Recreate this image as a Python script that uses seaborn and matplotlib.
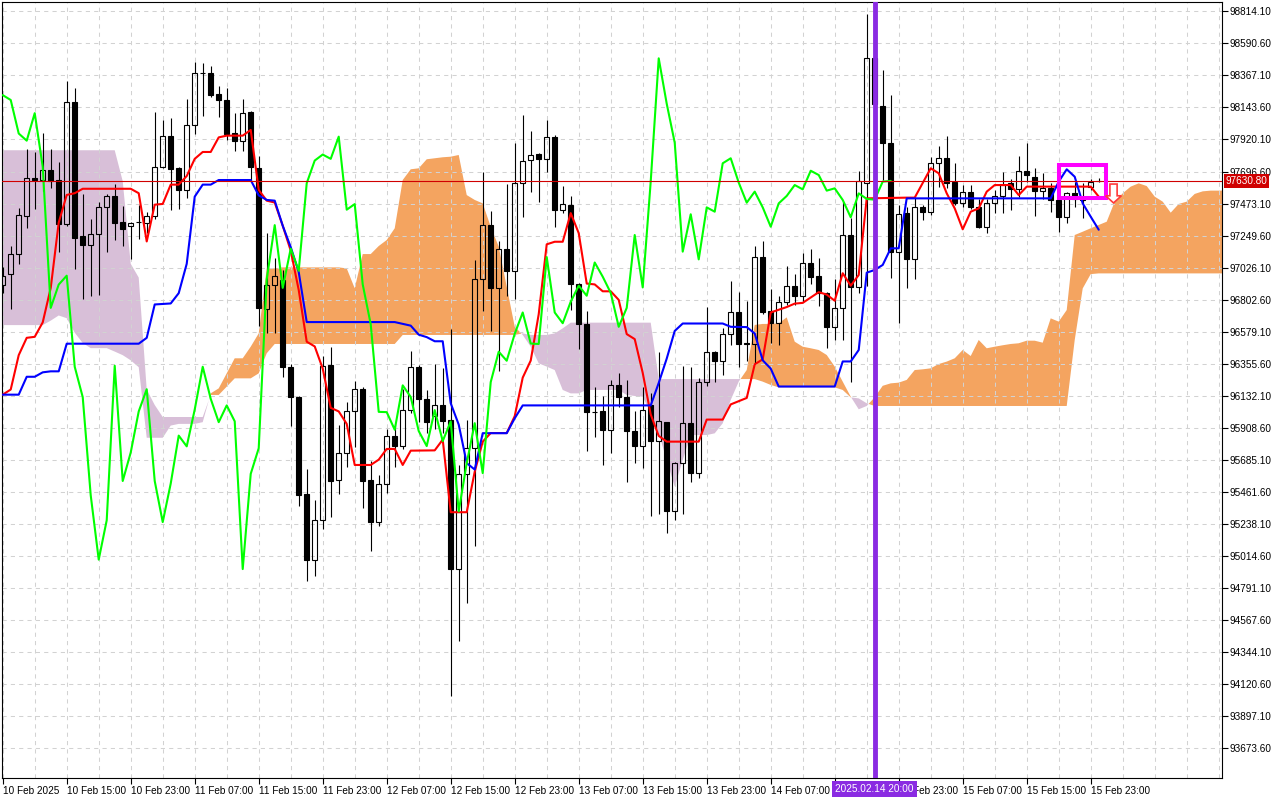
import numpy as np
import pandas as pd
import seaborn as sns
import matplotlib.pyplot as plt
from matplotlib.patches import Rectangle, Polygon

# BTCUSD H1, bars 10 Feb 07:00 .. 16 Feb 00:00 (bar index 0..137)
opens = [96907, 96980, 97119, 97388, 97650, 97634, 97706, 97634, 97328, 98182,
         97244, 97184, 97263, 97451, 97523, 97345, 97316, 97347, 97340, 97384,
         97730, 97946, 97720, 97564, 98019, 98386, 98384, 98241, 98199, 97967,
         97912, 98111, 97722, 96739, 96907, 96939, 96333, 96121, 95443, 94986,
         95261, 96345, 95542, 95734, 96021, 96176, 95542, 95248, 95517, 95852,
         95777, 96034, 96333, 96109, 95988, 96063, 95958, 94920, 95585, 95764,
         96943, 97322, 96884, 97158, 97003, 97615, 97779, 97818, 97785, 97940,
         97430, 97466, 96908, 96630, 96020, 96024, 95893, 96203, 96122, 95884,
         95779, 96064, 95814, 95946, 95323, 95660, 95939, 95590, 96226, 96438,
         96375, 96563, 96712, 96497, 96492, 97099, 96720, 96637, 96787, 96899,
         96829, 97061, 96966, 96849, 96612, 96744, 97253, 96887, 97617, 98487,
         98154, 97898, 97137, 97405, 97083, 97446, 97416, 97754, 97789, 97623,
         97479, 97556, 97446, 97311, 97474, 97526, 97614, 97572, 97702, 97660,
         97563, 97579, 97498, 97377, 97544, 97505, 97591, 97630]
highs = [97028, 97177, 97441, 97857, 97833, 97966, 97857, 97761, 98326, 98278,
         97538, 97364, 97485, 97538, 97610, 97456, 97345, 97461, 97413, 98110,
         98055, 98067, 97730, 98206, 98459, 98451, 98432, 98296, 98278, 98104,
         98203, 98121, 97804, 97268, 97089, 97006, 96350, 96126, 95622, 95403,
         96408, 96470, 95926, 96084, 96233, 96191, 95677, 95577, 95897, 95934,
         96176, 96445, 96345, 96171, 96352, 96322, 96600, 95645, 95964, 97078,
         97696, 97421, 97212, 97606, 97899, 98093, 97982, 97824, 98057, 97950,
         97594, 97525, 96915, 96720, 96191, 96131, 96242, 96287, 96242, 96024,
         96191, 96151, 96438, 95950, 95665, 96338, 96331, 96256, 96750, 96440,
         96605, 96929, 96854, 96794, 97174, 97211, 96874, 96824, 97036, 96979,
         97129, 97154, 97094, 96855, 96949, 97485, 97373, 97702, 98797, 98650,
         98406, 98231, 97463, 97451, 97509, 97463, 97796, 97875, 97945, 97754,
         97602, 97602, 97502, 97502, 97567, 97695, 97642, 97805, 97898, 97719,
         97684, 97614, 97626, 97556, 97626, 97614, 97642, 97649]
lows = [96847, 96739, 97052, 97304, 97437, 97557, 97581, 97136, 97316, 97016,
        96806, 96830, 96835, 97136, 97215, 97177, 97088, 97225, 97268, 97364,
        97720, 97425, 97437, 97514, 97961, 98081, 98218, 98079, 97917, 97842,
        97837, 97630, 96620, 96570, 96570, 96258, 95917, 95360, 94837, 94874,
        95198, 95286, 95443, 95635, 95772, 95343, 95048, 95223, 95448, 95635,
        95759, 96009, 95947, 95872, 95899, 95869, 94033, 94421, 94681, 95078,
        96720, 96585, 96302, 96824, 96809, 97376, 97555, 97487, 97696, 97308,
        97406, 96728, 96460, 95743, 95845, 95645, 95734, 96054, 95526, 95660,
        95624, 95291, 95303, 95173, 95266, 95303, 95528, 95553, 96201, 96226,
        96276, 96488, 96331, 96375, 96351, 96700, 96500, 96488, 96762, 96762,
        96787, 96912, 96754, 96463, 96520, 96520, 96226, 96850, 96900, 98050,
        97637, 96950, 96636, 96881, 96944, 97358, 97393, 97591, 97579, 97463,
        97451, 97432, 97300, 97265, 97405, 97405, 97428, 97521, 97626, 97386,
        97502, 97416, 97277, 97335, 97451, 97370, 97567, 97626]
closes = [96968, 97119, 97393, 97648, 97640, 97706, 97629, 97328, 98182, 97232,
          97184, 97263, 97451, 97523, 97340, 97297, 97340, 97343, 97384, 97730,
          97946, 97716, 97569, 98019, 98384, 98382, 98230, 98196, 97962, 97912,
          98104, 97730, 96744, 96907, 96969, 96333, 96121, 95435, 94986, 95261,
          96340, 95535, 95734, 96021, 96176, 95535, 95248, 95517, 95852, 95777,
          96034, 96333, 96109, 95946, 96063, 95952, 94920, 95585, 95764, 96943,
          97322, 96884, 97158, 97003, 97615, 97773, 97815, 97785, 97940, 97430,
          97469, 96908, 96630, 96018, 96016, 95893, 96203, 96122, 95884, 95779,
          96030, 95814, 95951, 95323, 95660, 95939, 95590, 96226, 96438, 96375,
          96563, 96712, 96495, 96492, 97099, 96712, 96637, 96787, 96899, 96829,
          97061, 96962, 96849, 96612, 96744, 97253, 96887, 97627, 98487, 98170,
          97898, 97137, 97398, 97083, 97446, 97416, 97754, 97789, 97619, 97479,
          97556, 97446, 97311, 97474, 97526, 97602, 97572, 97702, 97672, 97563,
          97579, 97498, 97377, 97544, 97505, 97500, 97626, 97630.8]

# Tenkan-sen / Kijun-sen (bar index, price)
tenkan_idx = [0, 1, 2, 3, 4, 5, 6, 7, 8, 9, 10, 16, 17, 18, 19, 20, 21, 22, 23, 24,
              25, 26, 27, 28, 30, 31, 32, 33, 34, 35, 36, 37, 38, 39, 40, 41, 42, 43, 44, 46,
              47, 48, 49, 50, 51, 54, 55, 56, 58, 59, 60, 61, 63, 64, 65, 66, 67, 68, 69, 70,
              71, 72, 73, 74, 75, 76, 77, 78, 79, 80, 81, 82, 83, 87, 88, 90, 91, 93, 94, 95,
              96, 98, 99, 100, 102, 103, 104, 105, 106, 107, 108, 113, 114, 116, 117, 118, 119, 120,
              121, 122, 123, 124, 126, 127, 128, 136, 137]
tenkan_val = [96138, 96174, 96414, 96535, 96542, 96643, 96883, 97340, 97533, 97545, 97576, 97576,
              97545, 97208, 97465, 97470, 97605, 97605, 97665, 97785, 97833, 97833, 97935, 97947,
              97947, 97987, 97568, 97493, 97480, 97318, 97144, 96869, 96508, 96475, 96320, 96046,
              96021, 95934, 95647, 95647, 95684, 95759, 95759, 95647, 95747, 95749, 95824, 95317,
              95317, 95600, 95810, 95870, 95870, 95988, 96257, 96376, 96700, 97188, 97206, 97206,
              97406, 97266, 96914, 96908, 96860, 96860, 96800, 96561, 96526, 96290, 96000, 95850,
              95810, 95810, 95964, 95964, 96070, 96115, 96350, 96385, 96712, 96750, 96774, 96779,
              96854, 96837, 96794, 96986, 96899, 96974, 97509, 97514, 97514, 97719, 97684, 97544,
              97439, 97293, 97416, 97439, 97556, 97602, 97602, 97532, 97591, 97591, 97521]
kijun_idx = [0, 2, 3, 4, 5, 6, 7, 8, 17, 18, 19, 21, 22, 23, 24, 25, 26, 27, 31, 32,
             33, 34, 35, 36, 37, 38, 49, 51, 52, 53, 54, 55, 56, 57, 58, 59, 60, 63, 64, 65,
             81, 82, 83, 84, 85, 90, 91, 93, 94, 95, 96, 97, 104, 105, 106, 107, 108, 109, 110, 111,
             112, 113, 131, 132, 133, 134, 135, 136, 137]
kijun_val = [96138, 96138, 96263, 96263, 96294, 96301, 96301, 96494, 96494, 96535, 96768, 96775,
             96847, 97052, 97521, 97605, 97605, 97637, 97637, 97530, 97498, 97493, 97318, 97169,
             96994, 96645, 96645, 96620, 96557, 96540, 96511, 96511, 96078, 95929, 95660, 95615,
             95869, 95869, 95973, 96063, 96063, 96220, 96390, 96583, 96635, 96635, 96612, 96610,
             96565, 96378, 96320, 96195, 96195, 96370, 96370, 96450, 96990, 97009, 97044, 97160,
             97160, 97509, 97509, 97626, 97712, 97660, 97474, 97381, 97290]

# Senkou spans, bar index 0..153 (cloud runs 26 bars ahead)
span_a = ([96624] * 6 + [96655, 96691, 96672, 96571, 96499, 96463, 96463, 96463, 96439,
          96414, 96378, 96330, 95837, 95837, 95837, 95922, 95934, 95934, 95934, 95946,
          96147, 96182, 96287, 96392, 96392, 96473, 96566, 97020, 97020] + [97027] * 8 +
          [97020, 96881, 97120, 97120, 97176, 97218, 97300, 97637, 97712, 97719, 97782,
           97789, 97796, 97800, 97812, 97532, 97498, 97474, 97311, 97172, 96892, 96613,
           96555, 96473, 96357, 96334, 96310, 96171, 96147, 96147] + [96171] * 5 +
          [96136, 96129, 96124, 96008, 95868, 95682, 95496, 95682, 95856, 95856, 95856,
           95868, 95938, 96101, 96229, 96310, 96625, 96632, 96632, 96636, 96678, 96508,
           96473, 96462, 96450, 96415, 96334, 96229, 96124, 96036, 96059, 96120, 96200,
           96217, 96222, 96241, 96310, 96315, 96322, 96352, 96369, 96392, 96450, 96408,
           96520, 96462, 96473, 96483, 96492, 96497, 96515, 96515, 96501, 96671, 96648,
           96729, 97253, 97276, 97300, 97323, 97346, 97486, 97544, 97591, 97614, 97595,
           97521, 97486, 97409, 97470, 97486, 97540, 97558, 97563, 97563, 97563])
span_b = ([97845] * 15 + [97629, 97052, 96956, 96174, 96066] + [95982] * 6 +
          [96136, 96136, 96194, 96252, 96252, 96252, 96287, 96427] + [96492] * 16 +
          [96555] * 15 + [96566, 96555, 96555, 96555, 96566, 96601] + [96641] * 11 +
          [96247] * 13 + [96229, 96206] + [96189] * 8 + [96171, 96119, 96112, 96078] +
          [96059] * 25 + [96520, 96880, 96980] + [96985] * 17)

date_labels = ["10 Feb 2025", "10 Feb 15:00", "10 Feb 23:00", "11 Feb 07:00", "11 Feb 15:00",
               "11 Feb 23:00", "12 Feb 07:00", "12 Feb 15:00", "12 Feb 23:00", "13 Feb 07:00",
               "13 Feb 15:00", "13 Feb 23:00", "14 Feb 07:00", "14 Feb 15:00", "14 Feb 23:00",
               "15 Feb 07:00", "15 Feb 15:00", "15 Feb 23:00"]
price_ticks = [98814.10, 98590.60, 98367.10, 98143.60, 97920.10, 97696.60, 97473.10, 97249.60,
               97026.10, 96802.60, 96579.10, 96355.60, 96132.10, 95908.60, 95685.10, 95461.60,
               95238.10, 95014.60, 94791.10, 94567.60, 94344.10, 94120.60, 93897.10, 93673.60]

last_price = 97630.80
marker_bar = 109
marker_text = "2025.02.14 20:00"
# signal box / sell arrow drawn on the chart
box_bars = (132.0, 137.95)
box_prices = (97512, 97744)
arrow_bar = 138.85
arrow_prices = (97609, 97527, 97477)

sns.set_theme(style="white")
plt.rcParams['font.family'] = ['Liberation Sans', 'DejaVu Sans']

fig = plt.figure(figsize=(12.8, 8), dpi=100)
ax = fig.add_axes([2 / 1280, 22 / 800, 1220 / 1280, 776 / 800])

# cloud
cloud = pd.DataFrame({"bar": np.arange(len(span_a)), "a": span_a, "b": span_b})
ax.fill_between(cloud.bar, cloud.a, cloud.b, where=cloud.a >= cloud.b, interpolate=True,
                color='#f4a460', lw=0, zorder=1)
ax.fill_between(cloud.bar, cloud.a, cloud.b, where=cloud.a < cloud.b, interpolate=True,
                color='#d8bfd8', lw=0, zorder=1)

# candles
d = pd.DataFrame({"o": opens, "h": highs, "l": lows, "c": closes})
d["bar"] = np.arange(len(d))
d["top"] = d[["o", "c"]].max(axis=1)
d["bot"] = d[["o", "c"]].min(axis=1)
up = d.c >= d.o
ax.vlines(d.bar, d.top, d.h, color='black', lw=0.8, zorder=3)
ax.vlines(d.bar, d.l, d.bot, color='black', lw=0.8, zorder=3)
ax.bar(d.bar[up], (d.top - d.bot)[up], bottom=d.bot[up], width=0.62,
       facecolor='none', edgecolor='black', linewidth=0.8, zorder=3)
ax.bar(d.bar[~up], (d.top - d.bot)[~up], bottom=d.bot[~up], width=0.62,
       facecolor='black', edgecolor='black', linewidth=0.8, zorder=3)

# ichimoku lines
sns.lineplot(x=tenkan_idx, y=tenkan_val, ax=ax, color='#ff0000', lw=1.5, zorder=4)
sns.lineplot(x=kijun_idx, y=kijun_val, ax=ax, color='#0000ff', lw=1.5, zorder=4)
sns.lineplot(x=d.bar[:-26].values, y=d.c[26:].values, ax=ax, color='#00ff00', lw=1.5, zorder=4)

# last price
ax.axhline(last_price, color='#d00000', lw=0.8, zorder=4.5)
ax.text(1.0029, last_price, f"{last_price:.2f}", transform=ax.get_yaxis_transform(),
        ha='left', va='center', color='white', fontsize=7.2, zorder=10, clip_on=False,
        bbox=dict(boxstyle='square,pad=0.2', fc='#d00000', ec='none'))

# vertical time marker
ax.axvline(marker_bar, color='#8a2be2', lw=3.5, zorder=6)
ax.text(marker_bar, -0.0142, marker_text, transform=ax.get_xaxis_transform(),
        ha='center', va='center', color='white', fontsize=7.2, zorder=10, clip_on=False,
        bbox=dict(boxstyle='square,pad=0.3', fc='#8a2be2', ec='none'))

# signal box and arrow
ax.add_patch(Rectangle((box_bars[0], box_prices[0]), box_bars[1] - box_bars[0],
                       box_prices[1] - box_prices[0], fill=False,
                       edgecolor='#ff00ff', lw=2.9, zorder=7))
top, base, tip = arrow_prices
ax.add_patch(Polygon([(arrow_bar - 0.45, top), (arrow_bar + 0.45, top),
                      (arrow_bar + 0.45, base), (arrow_bar + 0.98, base),
                      (arrow_bar, tip), (arrow_bar - 0.98, base),
                      (arrow_bar - 0.45, base)], closed=True,
                     facecolor='white', edgecolor='#ff3a3a', lw=1.2, zorder=7))

# axes
ax.set_xlim(-0.09, 152.41)
ax.set_ylim(93460.8, 98880.4)
date_ticks = np.arange(0, 8 * len(date_labels), 8)
ax.set_xticks(date_ticks)
ax.set_xticklabels(date_labels, ha='left')
# the date under the marker box is covered in the terminal
for pos, lab in zip(date_ticks, ax.get_xticklabels()):
    if marker_bar - 8 < pos < marker_bar:
        lab.set_visible(False)
ax.set_xticks(np.arange(0, 153, 4), minor=True)
ax.yaxis.tick_right()
ax.set_yticks(price_ticks)
ax.set_yticklabels([f"{v:.2f}" for v in price_ticks])
ax.tick_params(axis='x', which='major', bottom=True, length=4, width=0.8, color='black',
               labelsize=7.2, pad=1.5, labelcolor='black')
ax.tick_params(axis='x', which='minor', bottom=True, length=0)
ax.tick_params(axis='y', which='major', right=True, left=False, labelright=True,
               labelleft=False, length=4, width=0.8, color='black', labelsize=7.2, pad=1.5,
               labelcolor='black')
ax.set_axisbelow('line')
ax.grid(True, axis='x', which='both', color='#d2d2d2', linestyle=(0, (4, 4)), lw=0.75)
ax.grid(True, axis='y', which='major', color='#d2d2d2', linestyle=(0, (4, 4)), lw=0.75)
ax.set_xlabel('')
ax.set_ylabel('')
for s in ax.spines.values():
    s.set_color('black')
    s.set_linewidth(0.8)
    s.set_visible(True)

fig.savefig('out.png', dpi=100)
